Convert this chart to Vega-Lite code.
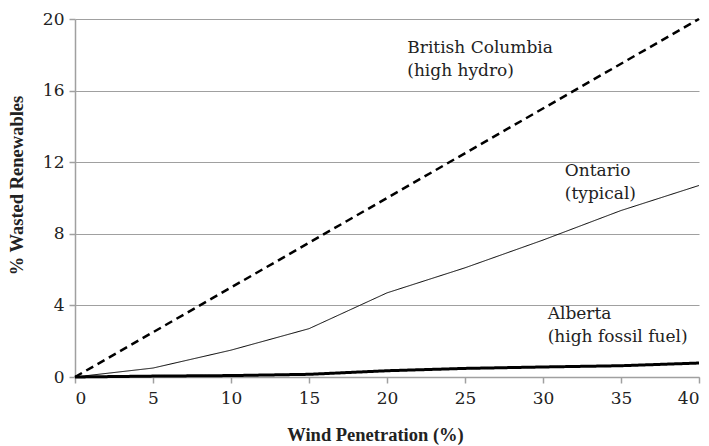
{
  "$schema": "https://vega.github.io/schema/vega-lite/v6.json",
  "width": 624,
  "height": 358,
  "autosize": {"type": "none"},
  "padding": {"left": 75, "top": 19, "right": 10, "bottom": 69},
  "background": "white",
  "config": {
    "view": {"stroke": null},
    "axis": {
      "labelColor": "#222",
      "titleColor": "#222",
      "labelFont": "DejaVu Serif",
      "titleFont": "Liberation Serif",
      "domainColor": "#a0a0a0",
      "tickColor": "#a0a0a0",
      "gridColor": "#a0a0a0",
      "domainWidth": 1.5,
      "tickWidth": 1.5,
      "gridWidth": 1.2
    }
  },
  "datasets": {
    "lines": [
      {"region": "British Columbia", "wind": 0, "wasted": 0},
      {"region": "British Columbia", "wind": 40, "wasted": 20},
      {"region": "Ontario", "wind": 0, "wasted": 0},
      {"region": "Ontario", "wind": 5, "wasted": 0.5},
      {"region": "Ontario", "wind": 10, "wasted": 1.5},
      {"region": "Ontario", "wind": 15, "wasted": 2.7},
      {"region": "Ontario", "wind": 20, "wasted": 4.7},
      {"region": "Ontario", "wind": 25, "wasted": 6.1},
      {"region": "Ontario", "wind": 30, "wasted": 7.65},
      {"region": "Ontario", "wind": 35, "wasted": 9.3},
      {"region": "Ontario", "wind": 40, "wasted": 10.7},
      {"region": "Alberta", "wind": 0, "wasted": 0},
      {"region": "Alberta", "wind": 5, "wasted": 0.05},
      {"region": "Alberta", "wind": 10, "wasted": 0.08},
      {"region": "Alberta", "wind": 15, "wasted": 0.15},
      {"region": "Alberta", "wind": 20, "wasted": 0.35},
      {"region": "Alberta", "wind": 25, "wasted": 0.48},
      {"region": "Alberta", "wind": 30, "wasted": 0.56},
      {"region": "Alberta", "wind": 35, "wasted": 0.63},
      {"region": "Alberta", "wind": 40, "wasted": 0.78}
    ],
    "labels": [
      {"label": "British Columbia\n(high hydro)", "wind": 21.3, "wasted": 18.85},
      {"label": "Ontario\n(typical)", "wind": 31.4, "wasted": 11.95},
      {"label": "Alberta\n(high fossil fuel)", "wind": 30.3, "wasted": 3.95}
    ]
  },
  "layer": [
    {
      "data": {"name": "lines"},
      "mark": {"type": "line", "color": "black"},
      "encoding": {
        "x": {
          "field": "wind", "type": "quantitative",
          "scale": {"domain": [0, 40], "nice": false},
          "axis": {
            "title": "Wind Penetration (%)",
            "values": [0, 5, 10, 15, 20, 25, 30, 35, 40],
            "grid": false,
            "labelFontSize": 17,
            "titleFontSize": 18.5,
            "titleFontWeight": "bold",
            "titleX": 300,
            "titleAnchor": "middle",
            "tickSize": 6,
            "labelPadding": 7,
            "titlePadding": 19
          }
        },
        "y": {
          "field": "wasted", "type": "quantitative",
          "scale": {"domain": [0, 20], "nice": false},
          "axis": {
            "title": "% Wasted Renewables",
            "values": [0, 4, 8, 12, 16, 20],
            "grid": true,
            "labelFontSize": 17,
            "titleFontSize": 18.5,
            "titleFontWeight": "bold",
            "titleY": 166,
            "titleAnchor": "middle",
            "tickSize": 6,
            "labelPadding": 5,
            "titlePadding": 16
          }
        },
        "detail": {"field": "region"},
        "strokeWidth": {
          "field": "region", "type": "nominal",
          "scale": {"type": "ordinal", "domain": ["British Columbia", "Ontario", "Alberta"], "range": [2.5, 1, 3]},
          "legend": null
        },
        "strokeDash": {
          "field": "region", "type": "nominal",
          "scale": {"domain": ["British Columbia", "Ontario", "Alberta"], "range": [[8, 5], [1, 0], [1, 0]]},
          "legend": null
        }
      }
    },
    {
      "data": {"name": "labels"},
      "mark": {"type": "text", "align": "left", "baseline": "top", "fontSize": 17, "lineBreak": "\n", "lineHeight": 23, "color": "#222", "font": "DejaVu Serif"},
      "encoding": {
        "x": {"field": "wind", "type": "quantitative"},
        "y": {"field": "wasted", "type": "quantitative"},
        "text": {"field": "label"}
      }
    }
  ]
}
